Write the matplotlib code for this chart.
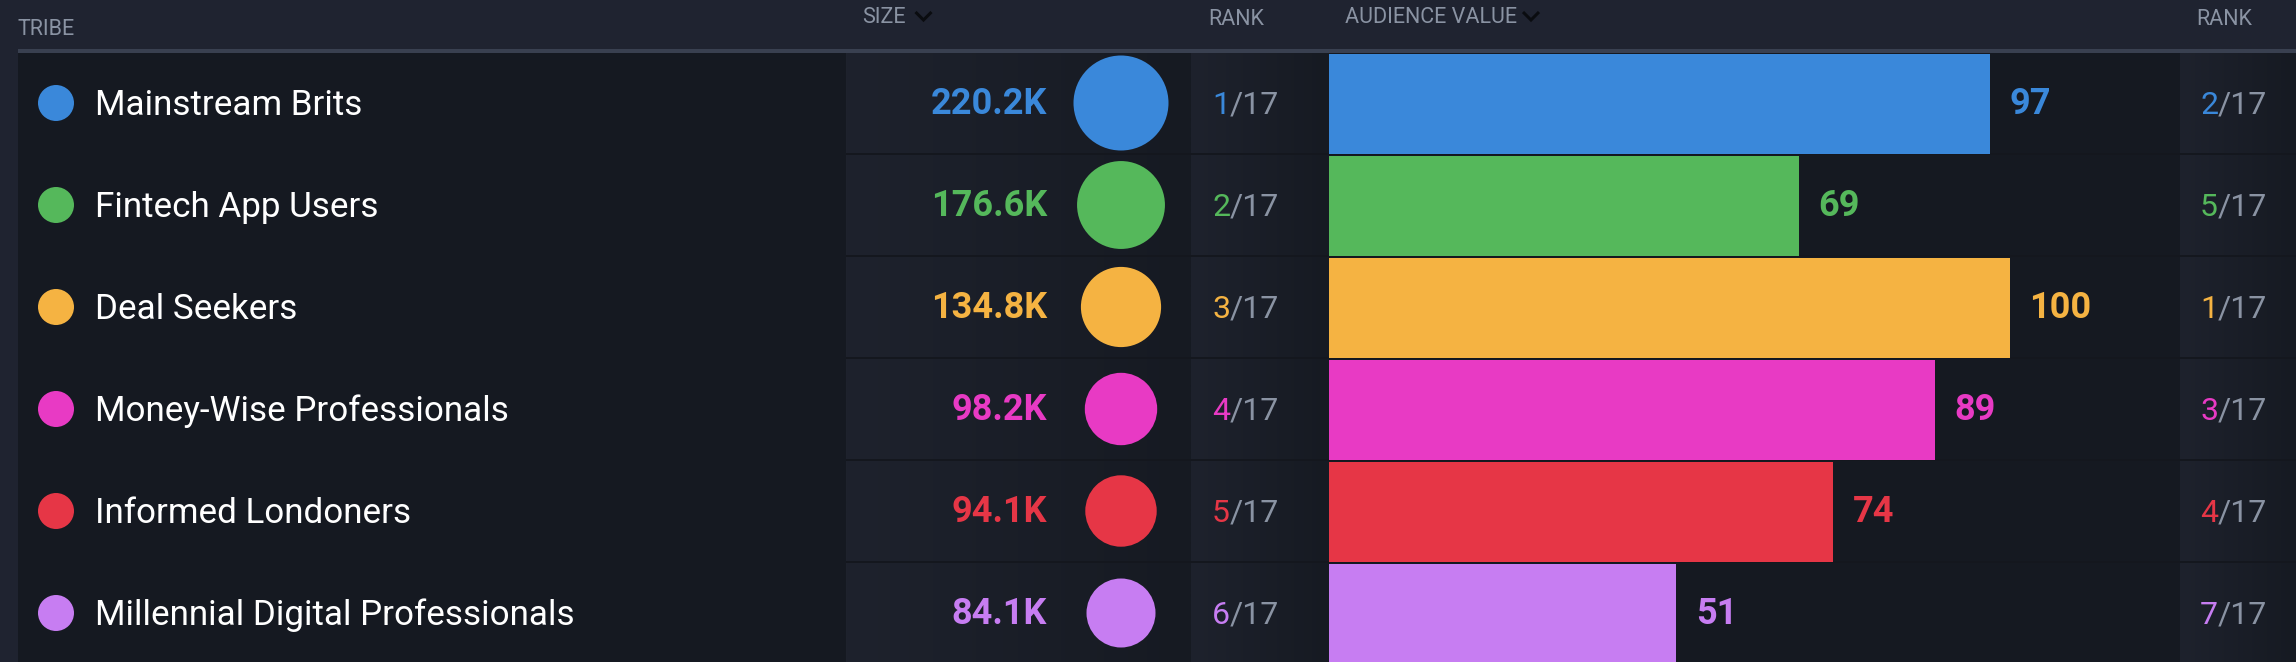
import matplotlib
matplotlib.use("Agg")
import matplotlib.pyplot as plt
import numpy as np
from matplotlib.colors import LinearSegmentedColormap
from matplotlib.patches import Circle, Rectangle

# ---- data -------------------------------------------------------------
tribes = [
    "Mainstream Brits",
    "Fintech App Users",
    "Deal Seekers",
    "Money-Wise Professionals",
    "Informed Londoners",
    "Millennial Digital Professionals",
]
size_k = [220.2, 176.6, 134.8, 98.2, 94.1, 84.1]
size_rank = [1, 2, 3, 4, 5, 6]
audience_value = [97, 69, 100, 89, 74, 51]
value_rank = [2, 5, 1, 3, 4, 7]
n_tribes = 17
tribe_colors = ["#3a88da", "#55b85b", "#f5b342", "#e83ac4", "#e63646", "#c77df2"]

# ---- style ------------------------------------------------------------
W, H = 2296, 662
HEADER_BG = "#1f2330"
DARK_BG = "#151921"
SEP = "#14171e"
HEAD_LINE = "#394050"
GREY = "#8a93a3"
FONT = "Roboto"

ROW_TOP = 53
ROW_PITCH = 102
ROW_H = 100

# column edges in pixels
TRIBE_X = (18, 846)
SIZE_X = (846, 1191)
RANK_X = (1191, 1329)
BAR_X = (1329, 2180)
RANK2_X = (2180, W)
BAR_FULL = 681  # px for a value of 100

fig = plt.figure(figsize=(W / 100, H / 100), dpi=100)
fig.patch.set_facecolor(HEADER_BG)
ax = fig.add_axes([0, 0, 1, 1])
ax.set_xlim(0, W)
ax.set_ylim(H, 0)
ax.axis("off")

# backgrounds
ax.add_patch(Rectangle((TRIBE_X[0], ROW_TOP), W - TRIBE_X[0], H - ROW_TOP,
                       color=DARK_BG, lw=0, zorder=0))
grad = LinearSegmentedColormap.from_list("cell", ["#1e222d", "#161a22"])
ramp = np.linspace(0, 1, 256)[None, :]
for x0, x1 in (SIZE_X, RANK_X, RANK2_X):
    ax.imshow(ramp, cmap=grad, extent=(x0, x1, H, ROW_TOP), aspect="auto",
              interpolation="bilinear", zorder=1)
for i in range(len(tribes)):
    y = ROW_TOP + i * ROW_PITCH + ROW_H
    ax.add_patch(Rectangle((SIZE_X[0], y), W - SIZE_X[0], ROW_PITCH - ROW_H,
                           color=SEP, lw=0, zorder=2))
ax.add_patch(Rectangle((TRIBE_X[0], 49), W - TRIBE_X[0], 4,
                       color=HEAD_LINE, lw=0, zorder=2))
ax.set_xlim(0, W)
ax.set_ylim(H, 0)

# header
hdr = dict(color=GREY, fontsize=15.5, family=FONT, va="baseline", ha="left")
ax.text(18, 35, "TRIBE", **hdr)
ax.text(862, 23, "SIZE", **hdr)
ax.text(1208, 25, "RANK", **hdr)
ax.text(1345, 23, "AUDIENCE VALUE", **hdr)
ax.text(2196, 25, "RANK", **hdr)
for cx in (923.5, 1531):
    ax.plot([cx - 8, cx, cx + 8], [12, 20, 12], color="#0a0c10", lw=2.2,
            solid_capstyle="butt", solid_joinstyle="miter", zorder=3)

# size bubbles: sqrt scale
d_min, d_max = 69, 95
s_lo, s_hi = np.sqrt(min(size_k)), np.sqrt(max(size_k))


def bubble_d(v):
    return d_min + (np.sqrt(v) - s_lo) / (s_hi - s_lo) * (d_max - d_min)


def rank_text(x, y, r, col):
    t = ax.text(x, y, str(r), color=col, fontsize=23, family=FONT,
                va="baseline", ha="left", zorder=4)
    ax.annotate(f"/{n_tribes}", xy=(1, 0), xycoords=t, va="bottom", ha="left",
                color=GREY, fontsize=23, family=FONT, zorder=4)


for i, name in enumerate(tribes):
    col = tribe_colors[i]
    top = ROW_TOP + i * ROW_PITCH
    cy = top + ROW_H / 2
    base = top + 62

    ax.add_patch(Circle((56, cy), 18, color=col, lw=0, zorder=4))
    ax.text(95, base, name, color="white", fontsize=25.2, family=FONT,
            fontweight="normal", va="baseline", ha="left", zorder=4)

    ax.text(1047, top + 61, f"{size_k[i]:.1f}K", color=col, fontsize=26,
            family=FONT, fontweight="bold", va="baseline", ha="right", zorder=4)
    ax.add_patch(Circle((1121, cy), bubble_d(size_k[i]) / 2, color=col, lw=0,
                        zorder=4))

    rank_text(1212, top + 61, size_rank[i], col)
    rank_text(2200, top + 61, value_rank[i], col)

# audience value bars
bax = fig.add_axes([BAR_X[0] / W, 0, BAR_FULL / W, (H - ROW_TOP) / H])
bax.axis("off")
rows = np.arange(len(tribes))
bax.barh(rows, audience_value, height=ROW_H / ROW_PITCH, color=tribe_colors,
         linewidth=0)
bax.set_xlim(0, 100)
bax.set_ylim((H - ROW_TOP) / ROW_PITCH - 0.5, -0.5)
for i, v in enumerate(audience_value):
    bax.annotate(str(v), xy=(v, i), xytext=(14, 0), textcoords="offset points",
                 va="center", ha="left", color=tribe_colors[i], fontsize=26,
                 family=FONT, fontweight="bold", annotation_clip=False)

fig.savefig("out.png", dpi=100, facecolor=fig.get_facecolor())
